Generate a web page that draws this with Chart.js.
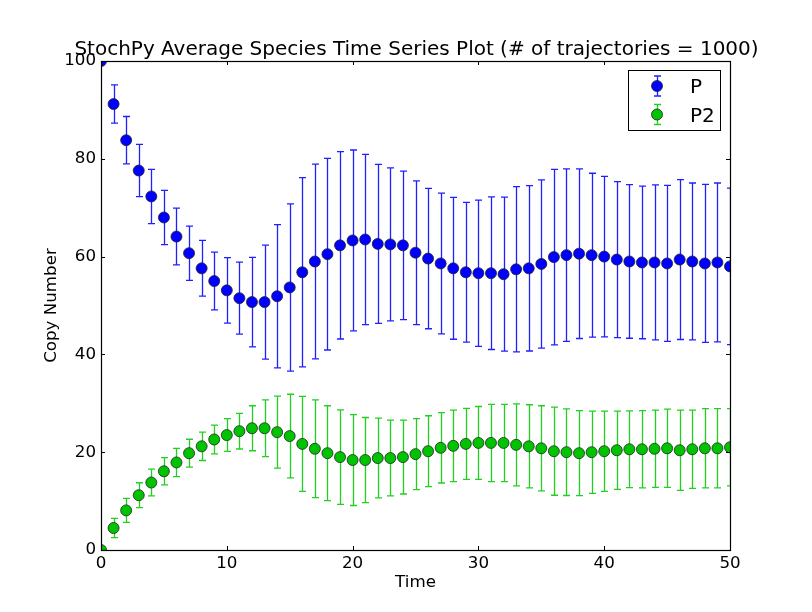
<!DOCTYPE html>
<html>
<head>
<meta charset="utf-8">
<script src="https://cdn.jsdelivr.net/npm/chart.js@4/dist/chart.umd.min.js"></script>
<style>
  html, body { margin: 0; padding: 0; background: #fff; }
  #wrap { width: 812px; height: 612px; }
</style>
</head>
<body>
<div id="wrap"><canvas id="chart"></canvas></div>
<script>
// ------------------------------------------------------------
// DATA
// ------------------------------------------------------------
const times = [0, 1, 2, 3, 4, 5, 6, 7, 8, 9, 10, 11, 12, 13, 14, 15, 16, 17, 18, 19, 20,
  21, 22, 23, 24, 25, 26, 27, 28, 29, 30, 31, 32, 33, 34, 35, 36, 37, 38, 39, 40,
  41, 42, 43, 44, 45, 46, 47, 48, 49, 50];

const pMean = [100, 91.2, 83.8, 77.6, 72.3, 68.0, 64.1, 60.7, 57.6, 55.0, 53.1,
  51.5, 50.7, 50.7, 51.9, 53.7, 56.8, 59.0, 60.5, 62.3, 63.3,
  63.5, 62.6, 62.5, 62.3, 60.8, 59.6, 58.6, 57.6, 56.8, 56.6,
  56.6, 56.4, 57.4, 57.6, 58.5, 59.9, 60.3, 60.6, 60.3, 60.0,
  59.4, 59.0, 58.8, 58.8, 58.6, 59.4, 59.0, 58.6, 58.8, 58.0];
const pStd = [0, 3.9, 4.85, 5.35, 5.55, 5.55, 5.8, 5.55, 5.7, 5.9, 6.7,
  7.35, 9.15, 11.65, 14.65, 17.1, 19.35, 19.9, 19.6, 19.15, 18.5,
  17.4, 16.25, 15.65, 15.2, 14.7, 14.35, 14.4, 14.5, 14.3, 14.95,
  15.6, 15.75, 16.9, 16.9, 17.2, 17.95, 17.65, 17.35, 16.75, 16.4,
  15.95, 15.7, 15.6, 15.85, 15.95, 16.35, 16.05, 16.15, 16.25, 16.0];

const p2Mean = [0, 4.5, 8.1, 11.2, 13.8, 16.1, 17.9, 19.8, 21.2, 22.6, 23.5,
  24.3, 24.9, 24.9, 24.1, 23.3, 21.7, 20.7, 19.8, 19.0, 18.4,
  18.4, 18.8, 18.8, 19.0, 19.6, 20.2, 20.9, 21.3, 21.7, 21.9,
  21.9, 21.9, 21.5, 21.2, 20.8, 20.2, 20.0, 19.8, 20.0, 20.2,
  20.4, 20.6, 20.6, 20.7, 20.8, 20.4, 20.6, 20.8, 20.8, 21.0];
const p2Std = [0, 1.95, 2.45, 2.55, 2.75, 2.8, 2.9, 2.85, 2.9, 2.95, 3.35,
  3.65, 4.6, 5.8, 7.35, 8.55, 9.7, 10.0, 9.7, 9.65, 9.3,
  8.7, 8.15, 7.75, 7.55, 7.25, 7.25, 7.2, 7.3, 7.25, 7.45,
  7.9, 7.9, 8.4, 8.5, 8.7, 9.0, 8.85, 8.7, 8.4, 8.2,
  8.0, 7.85, 7.9, 7.9, 8.0, 8.2, 8.0, 8.1, 8.1, 7.9];

const xTicks = [0, 10, 20, 30, 40, 50];
const yTicks = [0, 20, 40, 60, 80, 100];

const titleText = "StochPy Average Species Time Series Plot (# of trajectories = 1000)";
const xLabel = "Time";
const yLabel = "Copy Number";

const series = [
  { label: "P",  mean: pMean,  std: pStd,  fill: "#0000ff", bar: "#2020ff" },
  { label: "P2", mean: p2Mean, std: p2Std, fill: "#00c400", bar: "#22d022" }
];

const FONT = "'DejaVu Sans', sans-serif";

// ------------------------------------------------------------
// PLUGINS
// ------------------------------------------------------------
function drawErrorGlyph(ctx, px, top, bottom, color) {
  const cap = 3.5;
  ctx.strokeStyle = color;
  ctx.lineWidth = 1.3;
  ctx.beginPath();
  ctx.moveTo(px, top); ctx.lineTo(px, bottom);
  ctx.moveTo(px - cap, top); ctx.lineTo(px + cap, top);
  ctx.moveTo(px - cap, bottom); ctx.lineTo(px + cap, bottom);
  ctx.stroke();
}

function drawMarker(ctx, px, py, color) {
  ctx.fillStyle = color;
  ctx.strokeStyle = "#222";
  ctx.lineWidth = 0.8;
  ctx.beginPath();
  ctx.arc(px, py, 5.5, 0, Math.PI * 2);
  ctx.fill();
  ctx.stroke();
}

const errorBars = {
  id: "errorBars",
  beforeDatasetsDraw(chart) {
    const { ctx, chartArea: a, scales: { x, y } } = chart;
    ctx.save();
    ctx.beginPath();
    ctx.rect(a.left, a.top, a.right - a.left, a.bottom - a.top);
    ctx.clip();
    series.forEach(s => {
      times.forEach((t, i) => {
        if (!s.std[i]) return;
        const px = Math.round(x.getPixelForValue(t)) + 0.5;
        drawErrorGlyph(ctx, px,
          y.getPixelForValue(s.mean[i] + s.std[i]),
          y.getPixelForValue(s.mean[i] - s.std[i]), s.bar);
      });
    });
    ctx.restore();
  }
};

const frame = {
  id: "frame",
  afterDatasetsDraw(chart) {
    const { ctx, chartArea: a, scales: { x, y } } = chart;
    const tl = 4;
    ctx.save();
    ctx.strokeStyle = "#000";
    ctx.lineWidth = 1;
    ctx.beginPath();
    xTicks.forEach(v => {
      const px = Math.round(x.getPixelForValue(v)) + 0.5;
      ctx.moveTo(px, a.bottom); ctx.lineTo(px, a.bottom - tl);
      ctx.moveTo(px, a.top); ctx.lineTo(px, a.top + tl);
    });
    yTicks.forEach(v => {
      const py = Math.round(y.getPixelForValue(v)) + 0.5;
      ctx.moveTo(a.left, py); ctx.lineTo(a.left + tl, py);
      ctx.moveTo(a.right, py); ctx.lineTo(a.right - tl, py);
    });
    ctx.stroke();
    ctx.lineWidth = 1.2;
    ctx.strokeRect(Math.round(a.left) + 0.5, Math.round(a.top) + 0.5,
      Math.round(a.right - a.left), Math.round(a.bottom - a.top));
    ctx.restore();
  },
  afterDraw(chart) {
    const { ctx, chartArea: a } = chart;
    ctx.save();
    // title
    ctx.fillStyle = "#000";
    ctx.font = `20px ${FONT}`;
    ctx.textAlign = "center";
    ctx.textBaseline = "alphabetic";
    ctx.fillText(titleText, (a.left + a.right) / 2 + 1, 55);

    // legend
    const bx = 628.5, by = 70.5, bw = 92, bh = 60;
    ctx.fillStyle = "#fff";
    ctx.fillRect(bx, by, bw, bh);
    ctx.strokeStyle = "#000";
    ctx.lineWidth = 1;
    ctx.strokeRect(bx, by, bw, bh);
    series.forEach((s, i) => {
      const cy = 86 + i * 28.5;
      drawErrorGlyph(ctx, 657.5, cy - 10, cy + 10, s.bar);
      drawMarker(ctx, 657, cy, s.fill);
      ctx.fillStyle = "#000";
      ctx.font = `20px ${FONT}`;
      ctx.textAlign = "left";
      ctx.textBaseline = "middle";
      ctx.fillText(s.label, 690, cy + 2);
    });
    ctx.restore();
  }
};

// ------------------------------------------------------------
// CHART
// ------------------------------------------------------------
const datasets = series.map(s => ({
  label: s.label,
  data: times.map((t, i) => ({ x: t, y: s.mean[i] })),
  showLine: false,
  pointRadius: 5.5,
  pointHoverRadius: 5.5,
  pointBackgroundColor: s.fill,
  pointBorderColor: "#222",
  pointBorderWidth: 0.8,
  clip: 0
}));

new Chart(document.getElementById("chart"), {
  type: "scatter",
  data: { datasets },
  plugins: [errorBars, frame],
  options: {
    responsive: true,
    maintainAspectRatio: false,
    animation: false,
    events: [],
    layout: { padding: { left: 0, right: 82, top: 61, bottom: 0 } },
    plugins: {
      legend: { display: false },
      title: { display: false },
      tooltip: { enabled: false }
    },
    scales: {
      x: {
        type: "linear",
        min: 0,
        max: 50,
        afterFit: s => { s.height = 62; },
        afterBuildTicks: s => { s.ticks = xTicks.map(v => ({ value: v })); },
        grid: { display: false, drawTicks: false },
        border: { display: false },
        ticks: { color: "#000", font: { family: FONT, size: 16.7 }, padding: 4, maxRotation: 0 },
        title: { display: true, text: xLabel, color: "#000", font: { family: FONT, size: 16.7 }, padding: { top: 0, bottom: 19 } }
      },
      y: {
        type: "linear",
        min: 0,
        max: 100,
        afterFit: s => { s.width = 101; },
        afterBuildTicks: s => { s.ticks = yTicks.map(v => ({ value: v })); },
        grid: { display: false, drawTicks: false },
        border: { display: false },
        ticks: { color: "#000", font: { family: FONT, size: 16.7 }, padding: 5 },
        title: { display: true, text: yLabel, color: "#000", font: { family: FONT, size: 16.7 }, padding: { top: 42, bottom: 0 } }
      }
    }
  }
});
</script>
</body>
</html>
